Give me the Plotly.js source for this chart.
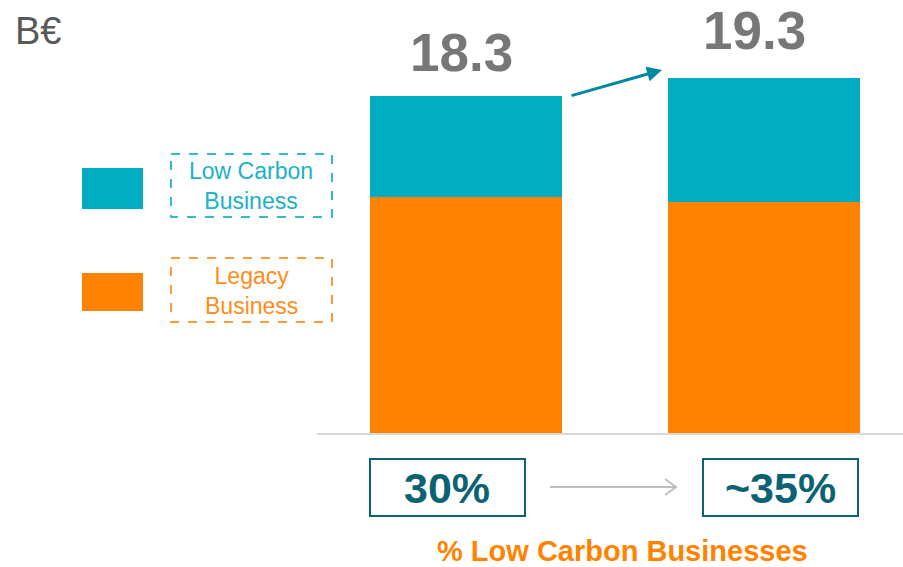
<!DOCTYPE html>
<html>
<head>
<meta charset="utf-8">
<script src="https://cdn.plot.ly/plotly-3.0.1.min.js"></script>
<style>html,body{margin:0;padding:0;background:#fff;}#chart{width:903px;height:567px;}</style>
</head>
<body>
<div id="chart"></div>
<script>
// ---- data ----
const categories = ["Current", "Target"];
const legacyValues = [12.8, 12.55];
const lowCarbonValues = [5.5, 6.75];
const totalLabels = ["18.3", "19.3"];
const pctLabels = ["30%", "~35%"];
const seriesNames = ["Low Carbon<br>Business", "Legacy<br>Business"];
const unitLabel = "B€";
const axisCaption = "% Low Carbon Businesses";

// ---- styling ----
const W = 903, H = 567;
const TEAL = "#00ADC3", ORANGE = "#FF8300", DARKTEAL = "#0B6273", ARROWTEAL = "#0088A2";
const FONT = "Arial, 'Liberation Sans', sans-serif";
const px = x => x / W;
const py = y => 1 - y / H;

const totals = categories.map((c, i) => legacyValues[i] + lowCarbonValues[i]);

const traces = [
  {type: "bar", name: "Legacy", x: categories, y: legacyValues, marker: {color: ORANGE, line: {width: 0}}, width: 0.644, hoverinfo: "none"},
  {type: "bar", name: "Low Carbon", x: categories, y: lowCarbonValues, marker: {color: TEAL, line: {width: 0}}, width: 0.644, hoverinfo: "none"}
];

const totalShift = [{x: -5, y: 44}, {x: -10, y: 47}];
const annotations = [];
categories.forEach((c, i) => {
  annotations.push({x: c, y: totals[i], xref: "x", yref: "y", text: totalLabels[i], showarrow: false,
    xanchor: "center", yanchor: "middle", xshift: totalShift[i].x, yshift: totalShift[i].y,
    font: {family: FONT, size: 53, color: "#777777", weight: "bold"}});
});
// percentage labels
const pctCenters = [447, 780];
pctLabels.forEach((t, i) => {
  annotations.push({x: px(pctCenters[i]), y: py(488), xref: "paper", yref: "paper", text: "<b>" + t + "</b>",
    showarrow: false, xanchor: "center", yanchor: "middle", font: {family: FONT, size: 43, color: DARKTEAL}});
});
// caption
annotations.push({x: px(622), y: py(551), xref: "paper", yref: "paper", text: "<b>" + axisCaption + "</b>",
  showarrow: false, xanchor: "center", yanchor: "middle", font: {family: FONT, size: 29, color: ORANGE}});
// unit
annotations.push({x: px(13), y: py(31), xref: "paper", yref: "paper", text: unitLabel, showarrow: false,
  xanchor: "left", yanchor: "middle", font: {family: FONT, size: 38, color: "#595959"}});
// legend texts
annotations.push({x: px(251), y: py(186), xref: "paper", yref: "paper", text: seriesNames[0], showarrow: false,
  xanchor: "center", yanchor: "middle", font: {family: FONT, size: 23, color: "#1BB1C6"}});
annotations.push({x: px(251), y: py(291), xref: "paper", yref: "paper", text: seriesNames[1], showarrow: false,
  xanchor: "center", yanchor: "middle", font: {family: FONT, size: 23, color: "#FF8C1A"}});
// growth arrow between bars
annotations.push({x: px(662), y: py(70), xref: "paper", yref: "paper", ax: -92, ay: 26, axref: "pixel", ayref: "pixel",
  text: "", showarrow: true, arrowhead: 2, arrowsize: 1, arrowwidth: 3, arrowcolor: ARROWTEAL, standoff: 0, startstandoff: 0});

const shapes = [
  // legend swatches
  {type: "rect", xref: "paper", yref: "paper", x0: px(82), x1: px(143), y0: py(168), y1: py(209), fillcolor: TEAL, line: {width: 0}},
  {type: "rect", xref: "paper", yref: "paper", x0: px(82), x1: px(143), y0: py(273), y1: py(311), fillcolor: ORANGE, line: {width: 0}},
  // dashed legend boxes
  {type: "rect", xref: "paper", yref: "paper", x0: px(171), x1: px(332), y0: py(154), y1: py(217), line: {color: "#33BACB", width: 2, dash: "dash"}},
  {type: "rect", xref: "paper", yref: "paper", x0: px(171), x1: px(332), y0: py(258), y1: py(322), line: {color: "#FF9A3A", width: 2, dash: "dash"}},
  // percentage boxes
  {type: "rect", xref: "paper", yref: "paper", x0: px(370), x1: px(525), y0: py(459), y1: py(516), line: {color: DARKTEAL, width: 2}},
  {type: "rect", xref: "paper", yref: "paper", x0: px(703), x1: px(858), y0: py(459), y1: py(516), line: {color: DARKTEAL, width: 2}},
  // gray arrow
  {type: "line", xref: "paper", yref: "paper", x0: px(550), x1: px(676), y0: py(487), y1: py(487), line: {color: "#BFBFBF", width: 2}},
  {type: "path", xref: "paper", yref: "paper",
   path: "M " + px(665) + " " + py(479) + " L " + px(676) + " " + py(487) + " L " + px(665) + " " + py(495),
   line: {color: "#BFBFBF", width: 2}}
];

const layout = {
  width: W, height: H,
  margin: {l: 0, r: 0, t: 0, b: 0},
  paper_bgcolor: "#fff", plot_bgcolor: "#fff",
  barmode: "stack",
  showlegend: false,
  xaxis: {domain: [317 / W, 1], range: [-0.5, 1.4664], type: "category", showticklabels: false, ticks: "",
    showgrid: false, zeroline: false, showline: true, linecolor: "#D9D9D9", linewidth: 2, fixedrange: true},
  yaxis: {domain: [134 / H, 539 / H], range: [0, 22], showticklabels: false, ticks: "", showgrid: false,
    zeroline: false, showline: false, fixedrange: true},
  annotations: annotations,
  shapes: shapes
};

Plotly.newPlot("chart", traces, layout, {staticPlot: true, displayModeBar: false});
</script>
</body>
</html>
